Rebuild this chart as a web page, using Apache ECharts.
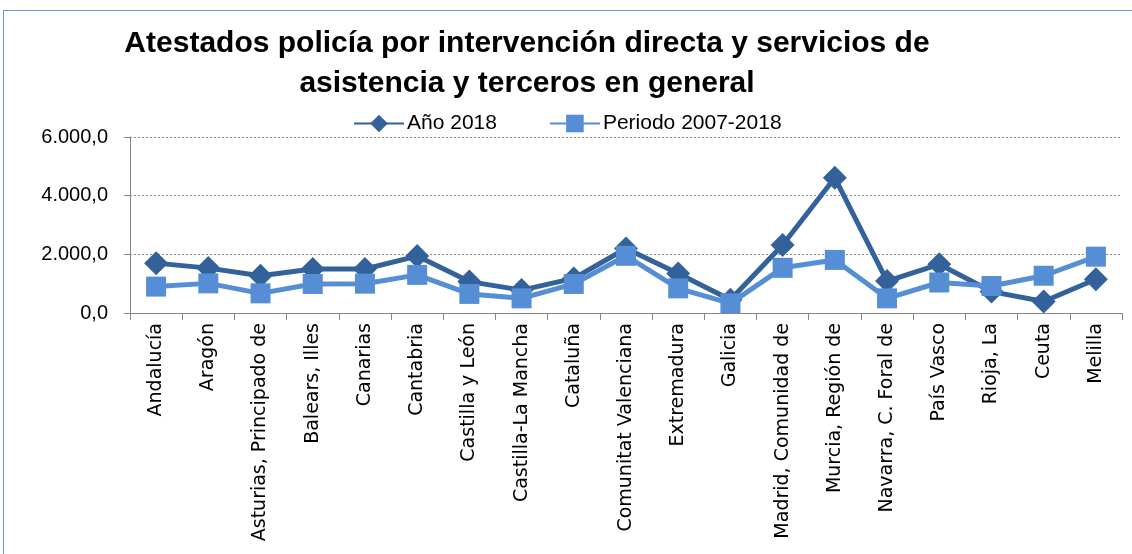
<!DOCTYPE html>
<html>
<head>
<meta charset="utf-8">
<script src="https://cdn.jsdelivr.net/npm/echarts@6/dist/echarts.min.js"></script>
<style>
  html, body { margin: 0; padding: 0; background: #fff; }
  #frame { position: absolute; left: 3px; top: 10px; width: 1140px; height: 560px; border: 1px solid #6f93c8; }
  #chart { position: absolute; left: 0; top: 0; width: 1132px; height: 554px; }
</style>
</head>
<body>
<div id="frame"></div>
<div id="chart"></div>
<script>
const categories = [
  "Andalucía", "Aragón", "Asturias, Principado de", "Balears, Illes", "Canarias",
  "Cantabria", "Castilla y León", "Castilla-La Mancha", "Cataluña", "Comunitat Valenciana",
  "Extremadura", "Galicia", "Madrid, Comunidad de", "Murcia, Región de", "Navarra, C. Foral de",
  "País Vasco", "Rioja, La", "Ceuta", "Melilla"
];
const year2018 = [1700, 1530, 1270, 1500, 1500, 1940, 1070, 780, 1180, 2200, 1350, 450, 2320, 4610, 1090, 1660, 730, 390, 1150];
const period2007_2018 = [900, 1010, 670, 990, 1000, 1300, 650, 500, 990, 1950, 840, 330, 1540, 1810, 500, 1040, 920, 1270, 1920];

function fmt(v) {
  let s = String(Math.round(v));
  s = s.replace(/\B(?=(\d{3})+(?!\d))/g, ".");
  return s + ",0";
}

const chart = echarts.init(document.getElementById("chart"));
const option = {
  animation: false,
  title: {
    text: "Atestados policía por intervención directa y servicios de\nasistencia y terceros en general",
    left: 522,
    textAlign: "center",
    top: 19,
    textStyle: {
      fontFamily: "Liberation Sans",
      fontWeight: "bold",
      fontSize: 30,
      lineHeight: 40,
      color: "#000"
    }
  },
  legend: {
    top: 108,
    left: 348,
    itemWidth: 50,
    itemHeight: 22,
    itemGap: 52,
    textStyle: { fontFamily: "Liberation Sans", fontSize: 21, color: "#000", padding: [0, 0, 0, -2] },
    data: ["Año 2018", "Periodo 2007-2018"]
  },
  grid: { left: 130, right: 10, top: 137, bottom: 241 },
  xAxis: {
    type: "category",
    data: categories,
    boundaryGap: true,
    axisLine: { lineStyle: { color: "#868686", width: 1 } },
    axisTick: { show: true, length: 7, lineStyle: { color: "#868686" } },
    axisLabel: {
      rotate: 90,
      interval: 0,
      margin: 10,
      fontFamily: "DejaVu Sans",
      fontSize: 19,
      color: "#000"
    }
  },
  yAxis: {
    type: "value",
    min: 0,
    max: 6000,
    interval: 2000,
    axisLine: { show: true, lineStyle: { color: "#868686" } },
    axisTick: { show: true, length: 6, lineStyle: { color: "#868686" } },
    splitLine: { lineStyle: { color: "#8c8c8c", type: [2, 2] } },
    axisLabel: {
      formatter: fmt,
      margin: 22,
      fontFamily: "Liberation Sans",
      fontSize: 20,
      color: "#000"
    }
  },
  series: [
    {
      name: "Año 2018",
      type: "line",
      data: year2018,
      symbol: "diamond",
      symbolSize: 24,
      lineStyle: { color: "#33619a", width: 5 },
      itemStyle: { color: "#33619a" },
      z: 3
    },
    {
      name: "Periodo 2007-2018",
      type: "line",
      data: period2007_2018,
      symbol: "rect",
      symbolSize: 20,
      lineStyle: { color: "#558ed5", width: 5 },
      itemStyle: { color: "#558ed5" },
      z: 4
    }
  ]
};
chart.setOption(option);
</script>
</body>
</html>
